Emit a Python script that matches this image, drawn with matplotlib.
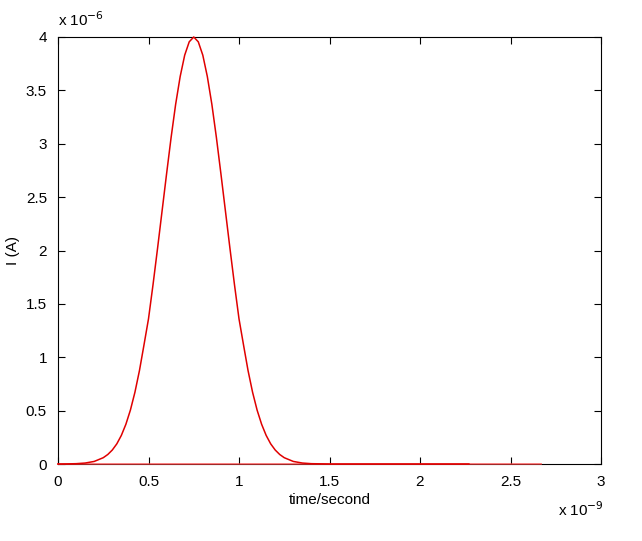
import numpy as np
import matplotlib
matplotlib.use("Agg")
import matplotlib.pyplot as plt
from matplotlib.ticker import FuncFormatter

plt.rcParams['font.family'] = ['Liberation Sans', 'DejaVu Sans']

# pulse current (time in ns, current in uA)
t_ns = [0.0, 0.05, 0.10, 0.15, 0.20, 0.25, 0.275, 0.30, 0.325, 0.35, 0.375,
        0.40, 0.425, 0.45, 0.475, 0.50, 0.525, 0.55, 0.575, 0.60, 0.625,
        0.65, 0.675, 0.70, 0.725, 0.75, 0.775, 0.80, 0.825, 0.85, 0.875,
        0.90, 0.925, 0.95, 0.975, 1.00, 1.025, 1.05, 1.075, 1.10, 1.125,
        1.15, 1.175, 1.20, 1.225, 1.25, 1.30, 1.35, 1.40, 1.50, 1.75, 2.00, 2.27]
i_ua = [0.0, 0.001, 0.003, 0.009, 0.024, 0.059, 0.089, 0.131, 0.189, 0.268, 0.372,
        0.505, 0.672, 0.875, 1.115, 1.36, 1.68, 2.02, 2.37, 2.72, 3.06,
        3.37, 3.63, 3.83, 3.955, 4.0, 3.955, 3.83, 3.63, 3.37, 3.06,
        2.72, 2.37, 2.02, 1.68, 1.36, 1.115, 0.875, 0.672, 0.505, 0.372,
        0.268, 0.189, 0.131, 0.089, 0.059, 0.024, 0.009, 0.003, 0.0, 0.0, 0.0, 0.0]
# flat zero line
t0_ns = [0.0, 2.67]
i0_ua = [0.0, 0.0]

t = np.array(t_ns) * 1e-9
i = np.array(i_ua) * 1e-6
t0 = np.array(t0_ns) * 1e-9
i0 = np.array(i0_ua) * 1e-6

fig = plt.figure(figsize=(6.42, 5.41), dpi=100)
ax = fig.add_axes([58 / 642, 77 / 541, 543 / 642, 427 / 541])

ax.plot(t0, i0, color='#ff4040', linewidth=1.3, alpha=0.7, clip_on=False, zorder=3)
ax.plot(t, i, color='#e00000', linewidth=1.1, clip_on=False, zorder=4)

ax.set_xlim(0, 3e-9)
ax.set_ylim(0, 4e-6)
ax.set_xticks(np.arange(0, 3.01e-9, 0.5e-9))
ax.set_yticks(np.arange(0, 4.01e-6, 0.5e-6))
ax.xaxis.set_major_formatter(FuncFormatter(lambda v, p: '%g' % round(v / 1e-9, 3)))
ax.yaxis.set_major_formatter(FuncFormatter(lambda v, p: '%g' % round(v / 1e-6, 3)))
ax.tick_params(direction='in', top=True, right=True, length=5, labelsize=11, pad=8)
for s in ax.spines.values():
    s.set_linewidth(0.8)

ax.set_xlabel('time/second', fontsize=11, labelpad=3)
# y label placed by hand so it sits inside the figure like the original
fig.text(13 / 642, 1 - 250 / 541, 'I (A)', fontsize=11, rotation=90,
         ha='center', va='center')

fig.text(58 / 642, 1 - 20 / 541, r'x 10$^{-6}$', fontsize=11, va='center', ha='left')
fig.text(558 / 642, 1 - 510 / 541, r'x 10$^{-9}$', fontsize=11, va='center', ha='left')

fig.savefig('out.png', dpi=100)
